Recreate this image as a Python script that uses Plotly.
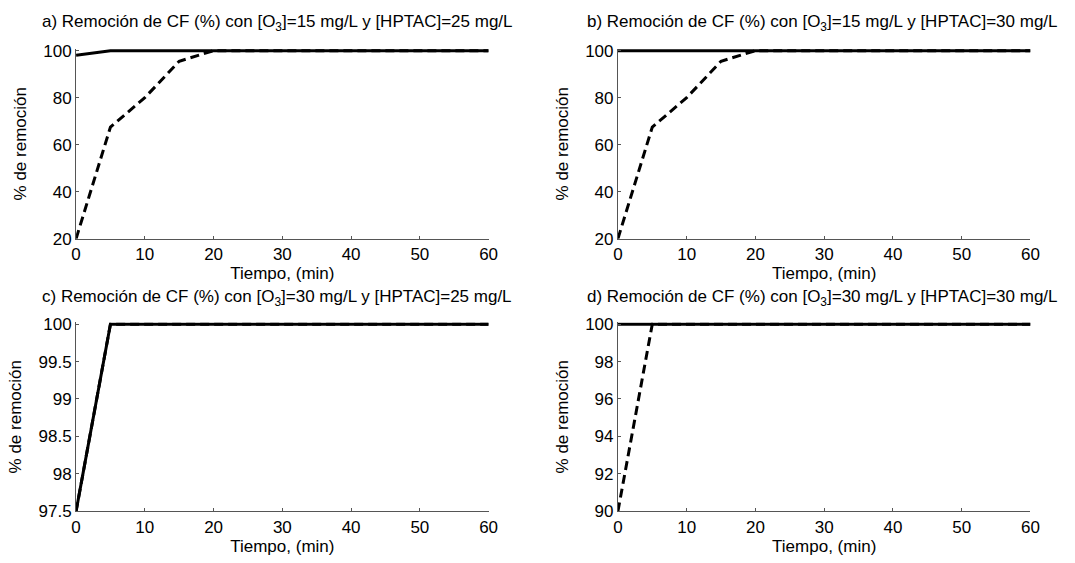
import plotly.graph_objects as go

# Data
tiempo = [0, 5, 10, 15, 20, 25, 30, 35, 40, 45, 50, 55, 60]

a_solid = [98, 100, 100, 100, 100, 100, 100, 100, 100, 100, 100, 100, 100]
a_dash = [20, 67.5, 80, 95.5, 100, 100, 100, 100, 100, 100, 100, 100, 100]

b_solid = [100, 100, 100, 100, 100, 100, 100, 100, 100, 100, 100, 100, 100]
b_dash = [20, 67.5, 80, 95.5, 100, 100, 100, 100, 100, 100, 100, 100, 100]

c_solid = [97.5, 100, 100, 100, 100, 100, 100, 100, 100, 100, 100, 100, 100]
c_dash = [97.5, 100, 100, 100, 100, 100, 100, 100, 100, 100, 100, 100, 100]

d_solid = [100, 100, 100, 100, 100, 100, 100, 100, 100, 100, 100, 100, 100]
d_dash = [90, 100, 100, 100, 100, 100, 100, 100, 100, 100, 100, 100, 100]

titles = [
    "a) Remoción de CF (%) con [O<sub>3</sub>]=15 mg/L y [HPTAC]=25 mg/L",
    "b) Remoción de CF (%) con [O<sub>3</sub>]=15 mg/L y [HPTAC]=30 mg/L",
    "c) Remoción de CF (%) con [O<sub>3</sub>]=30 mg/L y [HPTAC]=25 mg/L",
    "d) Remoción de CF (%) con [O<sub>3</sub>]=30 mg/L y [HPTAC]=30 mg/L",
]
x_ticks = [0, 10, 20, 30, 40, 50, 60]
y_ticks_a = [20, 40, 60, 80, 100]
y_ticks_b = [20, 40, 60, 80, 100]
y_ticks_c = [97.5, 98, 98.5, 99, 99.5, 100]
y_ticks_c_text = ["97.5", "98", "98.5", "99", "99.5", "100"]
y_ticks_d = [90, 92, 94, 96, 98, 100]

W, H = 1075, 563
FONT = "Liberation Sans, Arial, sans-serif"
FS = 17
AXC = "#555555"

panels = [
    dict(solid=a_solid, dash=a_dash, yr=(20, 100), yt=y_ticks_a, ytt=None,
         px=(72, 490), py=(45, 239), tx=276, ty=17),
    dict(solid=b_solid, dash=b_dash, yr=(20, 100), yt=y_ticks_b, ytt=None,
         px=(621, 1039), py=(45, 239), tx=828, ty=17),
    dict(solid=c_solid, dash=c_dash, yr=(97.5, 100), yt=y_ticks_c, ytt=y_ticks_c_text,
         px=(72, 490), py=(327, 520), tx=276, ty=300),
    dict(solid=d_solid, dash=d_dash, yr=(90, 100), yt=y_ticks_d, ytt=None,
         px=(621, 1039), py=(327, 520), tx=828, ty=300),
]

fig = go.Figure()
ext_px = 2  # small headroom so the line at 100 is not clipped
for i, p in enumerate(panels):
    n = "" if i == 0 else str(i + 1)
    xa, ya = "x" + n, "y" + n
    fig.add_trace(go.Scatter(x=tiempo, y=p["dash"], mode="lines", xaxis=xa, yaxis=ya,
                             line=dict(color="black", width=3, dash="9px,5px"),
                             showlegend=False))
    fig.add_trace(go.Scatter(x=tiempo, y=p["solid"], mode="lines", xaxis=xa, yaxis=ya,
                             line=dict(color="black", width=3), showlegend=False))
    y0, y1 = p["yr"]
    hpx = p["py"][1] - p["py"][0]
    upp = (y1 - y0) / hpx
    top_px = p["py"][0] - ext_px
    xdom = [p["px"][0] / W, p["px"][1] / W]
    ydom = [1 - p["py"][1] / H, 1 - top_px / H]
    common = dict(showgrid=False, zeroline=False, showline=True, linecolor=AXC, linewidth=1,
                  ticks="inside", ticklen=3, tickcolor=AXC, tickwidth=1,
                  tickfont=dict(family=FONT, size=FS, color="black"))
    fig.layout["xaxis" + n] = dict(domain=xdom, range=[0, 60], anchor=ya,
                                   tickvals=x_ticks,
                                   title=dict(text="Tiempo, (min)", standoff=1,
                                              font=dict(family=FONT, size=FS, color="black")),
                                   **common)
    yt = dict(domain=ydom, range=[y0, y1 + ext_px * upp], anchor=xa,
              tickvals=p["yt"],
              title=dict(text="% de remoción", standoff=12,
                         font=dict(family=FONT, size=FS, color="black")),
              **common)
    if p["ytt"]:
        yt["ticktext"] = p["ytt"]
    fig.layout["yaxis" + n] = yt
    fig.add_annotation(text=titles[i], xref="paper", yref="paper",
                       x=p["tx"] / W, y=1 - p["ty"] / H,
                       xanchor="center", yanchor="middle", showarrow=False,
                       font=dict(family=FONT, size=FS, color="black"))

fig.update_layout(width=W, height=H, margin=dict(l=0, r=0, t=0, b=0),
                  paper_bgcolor="white", plot_bgcolor="white",
                  font=dict(family=FONT, size=FS, color="black"))
fig.write_html("out.html")
